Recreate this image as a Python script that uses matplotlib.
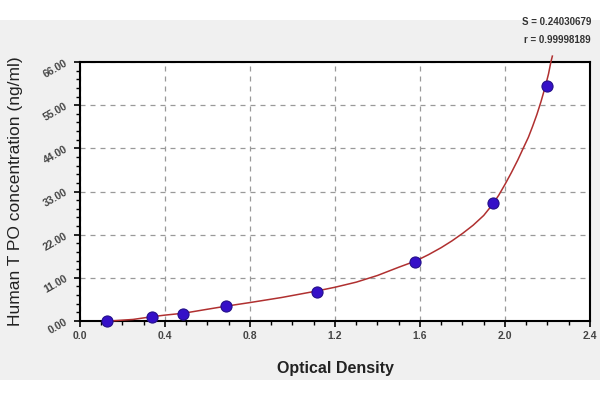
import matplotlib
matplotlib.use('agg')
import matplotlib.pyplot as plt
from matplotlib.patches import Rectangle
from matplotlib.ticker import MultipleLocator, AutoMinorLocator

# standard points (OD vs concentration)
od = [0.126, 0.337, 0.486, 0.687, 1.114, 1.576, 1.945, 2.196]
conc = [0.0, 0.938, 1.875, 3.75, 7.5, 15.0, 30.0, 60.0]

# fitted curve
curve_od = [0.14, 0.25, 0.34, 0.40, 0.49, 0.60, 0.69, 0.80, 0.95, 1.11, 1.20,
            1.30, 1.40, 1.50, 1.58, 1.64, 1.70, 1.75, 1.80, 1.85, 1.90, 1.94,
            1.97, 2.00, 2.03, 2.06, 2.09, 2.11, 2.13, 2.15, 2.17, 2.19, 2.205,
            2.216, 2.223]
curve_conc = [0.0, 0.4, 1.1, 1.5, 2.0, 3.0, 3.8, 4.7, 6.0, 7.6, 8.6,
              9.9, 11.6, 13.7, 15.3, 16.9, 18.7, 20.4, 22.3, 24.4, 26.9, 29.6,
              32.0, 34.8, 37.8, 41.0, 44.5, 46.8, 49.6, 52.6, 56.0, 59.8, 63.0,
              66.0, 67.5]

x_ticks = [0.0, 0.4, 0.8, 1.2, 1.6, 2.0, 2.4]
x_labels = ['0.0', '0.4', '0.8', '1.2', '1.6', '2.0', '2.4']
y_ticks = [0, 11, 22, 33, 44, 55, 66]
y_labels = ['0.00', '11.00', '22.00', '33.00', '44.00', '55.00', '66.00']

stats = ['S = 0.24030679', 'r = 0.99998189']

plt.rcParams['font.family'] = ['Liberation Sans', 'DejaVu Sans']

fig = plt.figure(figsize=(6, 4), dpi=100, facecolor='white')
fig.patches.append(Rectangle((0, 0.05), 1, 0.9, transform=fig.transFigure,
                             facecolor='#f0f0f0', edgecolor='none', zorder=-1))

ax = fig.add_axes([0.1333, 0.1975, 0.85, 0.6475])
ax.set_facecolor('white')

ax.plot(curve_od, curve_conc, color='#b03030', lw=1.1, zorder=3, clip_on=False)
ax.scatter(od, conc, s=64, color='#3510c8', edgecolors='#24108a', linewidths=0.8,
           zorder=4, clip_on=False)

ax.set_xlim(0, 2.4)
ax.set_ylim(0, 66)
ax.set_xticks(x_ticks)
ax.set_xticklabels(x_labels)
ax.set_yticks(y_ticks)
ax.set_yticklabels(y_labels, rotation=30)
ax.xaxis.set_minor_locator(MultipleLocator(0.1))
ax.yaxis.set_minor_locator(AutoMinorLocator(5))

ax.tick_params(which='major', direction='out', length=4, width=1.2,
               labelsize=7.5, labelcolor='#444444')
ax.tick_params(which='minor', direction='out', length=3, width=1)
for lab in ax.get_xticklabels() + ax.get_yticklabels():
    lab.set_fontweight('bold')

ax.grid(True, which='major', linestyle=(0, (4, 4)), color='#999999', linewidth=0.9)
for s in ax.spines.values():
    s.set_linewidth(1.5)

ax.set_xlabel('Optical Density', fontsize=11.5, fontweight='bold', color='#222222', labelpad=14)
ax.set_ylabel('Human T PO concentration (ng/ml)', fontsize=12.5, color='#222222')
ax.yaxis.set_label_coords(-0.112, 0.5)

fig.text(0.985, 0.945, stats[0], ha='right', va='center', fontsize=7,
         fontweight='bold', color='#333333')
fig.text(0.985, 0.90, stats[1], ha='right', va='center', fontsize=7,
         fontweight='bold', color='#333333')

fig.savefig('out.png', dpi=100, facecolor=fig.get_facecolor())
